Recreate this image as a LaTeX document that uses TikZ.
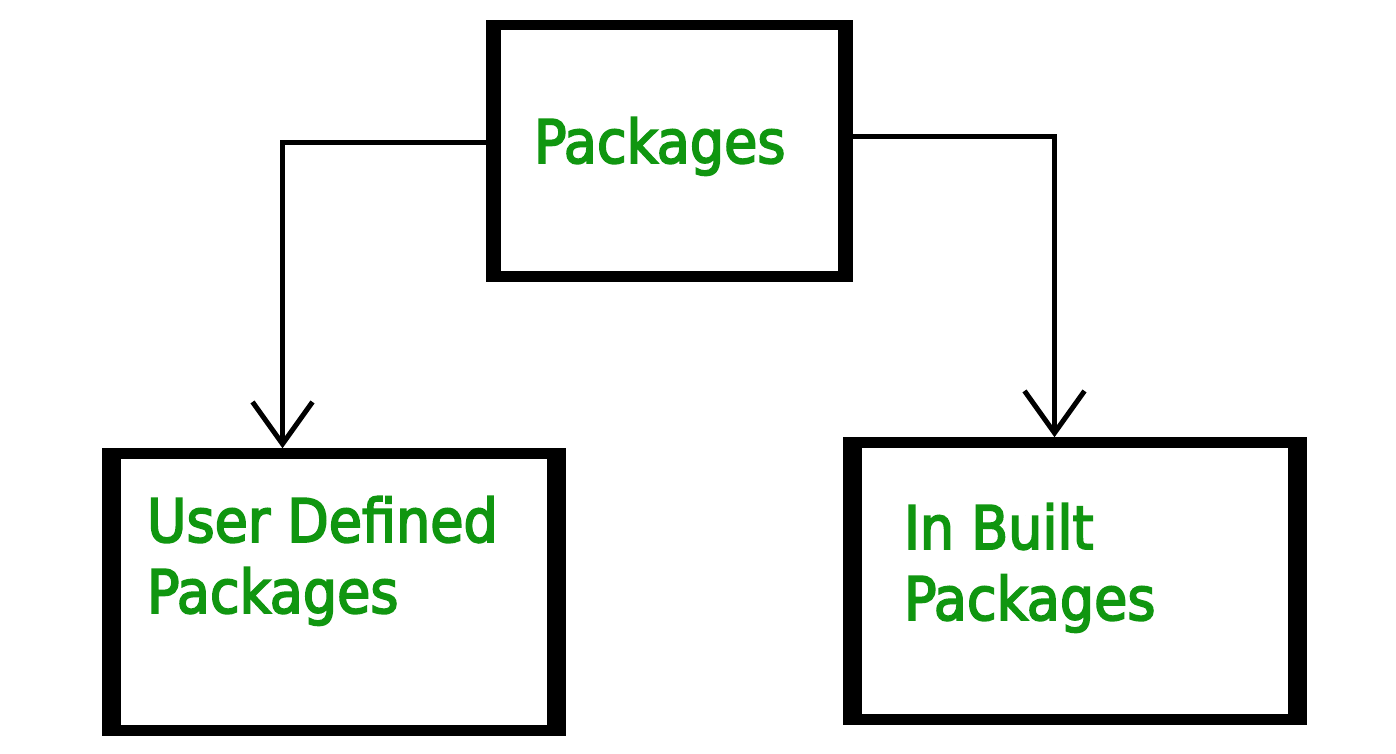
\documentclass[tikz,border=0pt]{standalone}
\usepackage{fontspec}
\newfontfamily\boxfont[FakeBold=3]{DejaVu Sans Condensed}
\usetikzlibrary{arrows.meta}
\definecolor{textColor}{RGB}{16,150,16}
\tikzset{
  pkgbox/.style={draw=black,line width=10.5pt,fill=white,inner sep=0pt},
  pkgtext/.style={text=textColor,anchor=base west,inner sep=0pt,outer sep=0pt,align=left,
    font=\boxfont\fontsize{60}{71}\selectfont},
  conn/.style={draw=black,line width=5pt,line join=miter,-{Straight Barb[length=42pt,width=60pt]}}
}
\begin{document}
\begin{tikzpicture}[x=1pt,y=1pt]
\definecolor{fillColor}{RGB}{255,255,255}
\path[use as bounding box,fill=fillColor] (0,0) rectangle (1396,754);

\node[pkgbox,minimum width=356.5,minimum height=251.5] (pkg) at ( 669.5,603.0) {};
\node[pkgbox,minimum width=453.0,minimum height=277.0] (udp) at ( 334.0,162.0) {};
\node[pkgbox,minimum width=453.0,minimum height=277.0] (ibp) at (1075.0,173.0) {};

\foreach \n/\w in {pkg/15,udp/18.5,ibp/19}{
  \fill[black] (\n.north west) rectangle ([xshift=\w]\n.south west);
  \fill[black] (\n.north east) rectangle ([xshift=-\w]\n.south east);
}

\node[pkgtext] (pkgtxt) at ( 534,591) {Packages};
\node[pkgtext] (udptxt) at ( 147,141) {User Defined\\Packages};
\node[pkgtext] (ibptxt) at ( 904,134) {In Built\\Packages};

\coordinate (lbend) at ( 282.5,611.5);
\coordinate (rbend) at (1054.5,617.5);

\draw[conn] (lbend -| pkg.west) -- (lbend) -- (lbend |- udp.north);
\draw[conn] (rbend -| pkg.east) -- (rbend) -- (rbend |- ibp.north);
\end{tikzpicture}
\end{document}
